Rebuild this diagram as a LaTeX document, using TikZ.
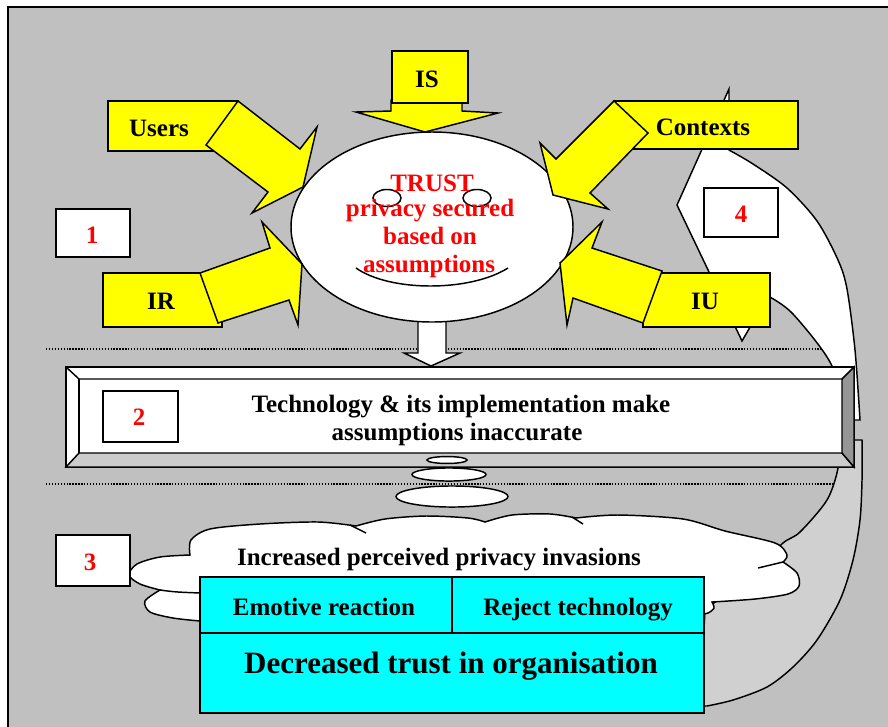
\documentclass[tikz,border=0pt]{standalone}
\usepackage{fontspec}
\setmainfont{Liberation Serif}
\usepackage{tikz}
\definecolor{panel}{RGB}{192,192,192}
\definecolor{backband}{RGB}{208,208,208}
\definecolor{bevlight}{RGB}{204,204,204}
\definecolor{bevdark}{RGB}{150,150,150}
\definecolor{ylw}{RGB}{255,255,0}
\definecolor{aqua}{RGB}{0,255,255}
\definecolor{numred}{RGB}{255,0,0}

\begin{document}
\begin{tikzpicture}[x=0.75pt, y=-0.75pt, line width=1.1pt, line join=miter,
  lbl/.style={font=\bfseries\fontsize{18.75}{21}\selectfont, inner sep=0pt, anchor=base},
  biglbl/.style={font=\bfseries\fontsize{23.25}{26}\selectfont, inner sep=0pt, anchor=base},
  redlbl/.style={lbl, text=numred},
  ybox/.style={draw, fill=ylw},
  wbox/.style={draw, fill=white},
  sep/.style={line width=1pt, dash pattern=on 1pt off 1.2pt}]
  \useasboundingbox (0,0) rectangle (888,726);
  \fill[white] (0,0) rectangle (888,726);
  \draw[fill=panel] (8,7) rectangle (900,740);

  % dotted separators
  \draw[sep] (46,349) -- (834,349);
  \draw[sep] (46,484) -- (834,484);

  % curved feedback arrow (back band, then front band)
  \draw[fill=backband] plot[smooth] coordinates {(707,706) (733,700) (767,687) (793,667) (817,640) (840,600) (853,560) (860,520) (862,480) (862,440)}
    -- plot[smooth] coordinates {(838,440) (838,468) (827,500) (800,532) (783,543) (755,570) (705,610)}
    -- (700,706) -- cycle;
  \draw[wbox] (729,89) -- (677,205) -- (742,341) -- (768,296)
    -- plot[smooth] coordinates {(768,296) (793,314) (832,366) (840,420)}
    -- (860,420)
    -- plot[smooth] coordinates {(860,420) (855,350) (847,289) (838,260) (817,221) (787,188) (753,164) (729,150)}
    -- cycle;

  % small arrow under the face
  \draw[wbox] (418,315) -- (418,353) -- (404,353) -- (431,366) -- (460,353) -- (446,353) -- (446,315) -- cycle;

  % the face
  \draw[wbox] (432,227) ellipse [x radius=105.75pt, y radius=71.25pt];
  \draw[wbox] (387,198) ellipse [x radius=10.5pt, y radius=6.4pt];
  \draw[wbox] (477,198) ellipse [x radius=10.5pt, y radius=6.4pt];
  \draw (356,268) .. controls (390,292) and (470,292) .. (508,268);
  \node[redlbl] (trust) at (432,191) {TRUST};
  \node[redlbl] (priv) at (430,216) {privacy secured};
  \node[redlbl] (based) at (430,244) {based on};
  \node[redlbl] (assum) at (429,272) {assumptions};

  % inputs
  \draw[ybox] (391,100) -- (391,111) -- (356,112) -- (425,132) -- (498,113) -- (462,111) -- (462,100) -- cycle;
  \draw[ybox] (392,51) rectangle (468,103);
  \node[lbl] (is) at (427,87) {IS};

  \draw[ybox] (108,101) rectangle (238,151);
  \draw[ybox] (238,101) -- (300,149) -- (317,127) -- (303,187) -- (252,213) -- (268,192) -- (206,145) -- cycle;
  \node[lbl] (users) at (159,136) {Users};

  \draw[ybox] (103,273) rectangle (222,327);
  \draw[ybox] (200,273) -- (270,248) -- (262,222) -- (302,264) -- (298,325) -- (289,300) -- (218,323) -- cycle;
  \node[lbl] (ir) at (161,309) {IR};

  \draw[ybox] (614,101) rectangle (798,149);
  \draw[ybox] (614,101) -- (648,133) -- (590,193) -- (608,209) -- (553,195) -- (540,143) -- (556,159) -- cycle;
  \node[lbl] (ctx) at (703,135) {Contexts};

  \draw[ybox] (643,273) rectangle (770,327);
  \draw[ybox] (662,271) -- (592,248) -- (602,222) -- (560,263) -- (567,325) -- (573,298) -- (643,323) -- cycle;
  \node[lbl] (iu) at (705,309) {IU};

  % step numbers
  \draw[wbox] (56,209) rectangle (130,257);
  \node[redlbl] (n1) at (92,243) {1};
  \draw[wbox] (704,188) rectangle (778,237);
  \node[redlbl] (n4) at (741,222) {4};

  % bevelled bar
  \draw[wbox] (66,367) rectangle (854,467);
  \draw[fill=bevlight] (66,467) -- (79,453) -- (842,453) -- (854,467) -- cycle;
  \draw[fill=bevdark] (854,367) -- (842,379) -- (842,453) -- (854,467) -- cycle;
  \draw (66,367) -- (79,379) -- (842,379);
  \draw (79,379) -- (79,453);
  \draw[wbox] (103,391) rectangle (178,442);
  \node[redlbl] (n2) at (139,425) {2};
  \node[lbl] (tech) at (461,412) {Technology \& its implementation make};
  \node[lbl] (inacc) at (457,440) {assumptions inaccurate};

  % thought bubbles
  \draw[wbox] (447,460) ellipse [x radius=15pt, y radius=2.6pt];
  \draw[wbox] (449,474.5) ellipse [x radius=27.75pt, y radius=4.9pt];
  \draw[wbox] (452,496.5) ellipse [x radius=42pt, y radius=7.9pt];

  % cloud
  \draw[wbox] plot[smooth] coordinates {(160,590) (140,584) (129,575) (137,564) (160,557) (190,555)}
    -- plot[smooth] coordinates {(190,555) (191,540) (210,529) (260,524) (318,522) (356,526)}
    -- plot[smooth] coordinates {(356,526) (385,519) (426,516) (468,518) (485,522)}
    -- plot[smooth] coordinates {(485,522) (512,515) (550,514) (576,518)}
    -- plot[smooth] coordinates {(576,518) (618,515) (683,519) (725,531) (775,543) (787,555) (783,562)}
    -- plot[smooth] coordinates {(783,562) (797,573) (799,586) (788,594) (755,599) (712,602)}
    -- plot[smooth] coordinates {(712,602) (714,608) (708,613) (700,614)}
    -- (700,640) -- (200,640)
    -- plot[smooth] coordinates {(200,621) (173,618) (150,612) (145,601) (160,590)} -- cycle;
  \draw (350,525) -- (366,533);
  \draw (572,517) -- (583,524);
  \draw (783,562) -- (758,568);
  \draw (160,590) .. controls (175,592) .. (200,593);
  \draw[wbox] (56,535) rectangle (130,586);
  \node[redlbl] (n3) at (90,570) {3};
  \node[lbl] (invas) at (439,565) {Increased perceived privacy invasions};

  % outcomes
  \draw[fill=aqua] (200,577) rectangle (704,713);
  \draw (200,633) -- (704,633);
  \draw (452,577) -- (452,633);
  \node[lbl] (emo) at (324,615) {Emotive reaction};
  \node[lbl] (rej) at (578,615) {Reject technology};
  \node[biglbl] (decr) at (451,673) {Decreased trust in organisation};
\end{tikzpicture}
\end{document}
